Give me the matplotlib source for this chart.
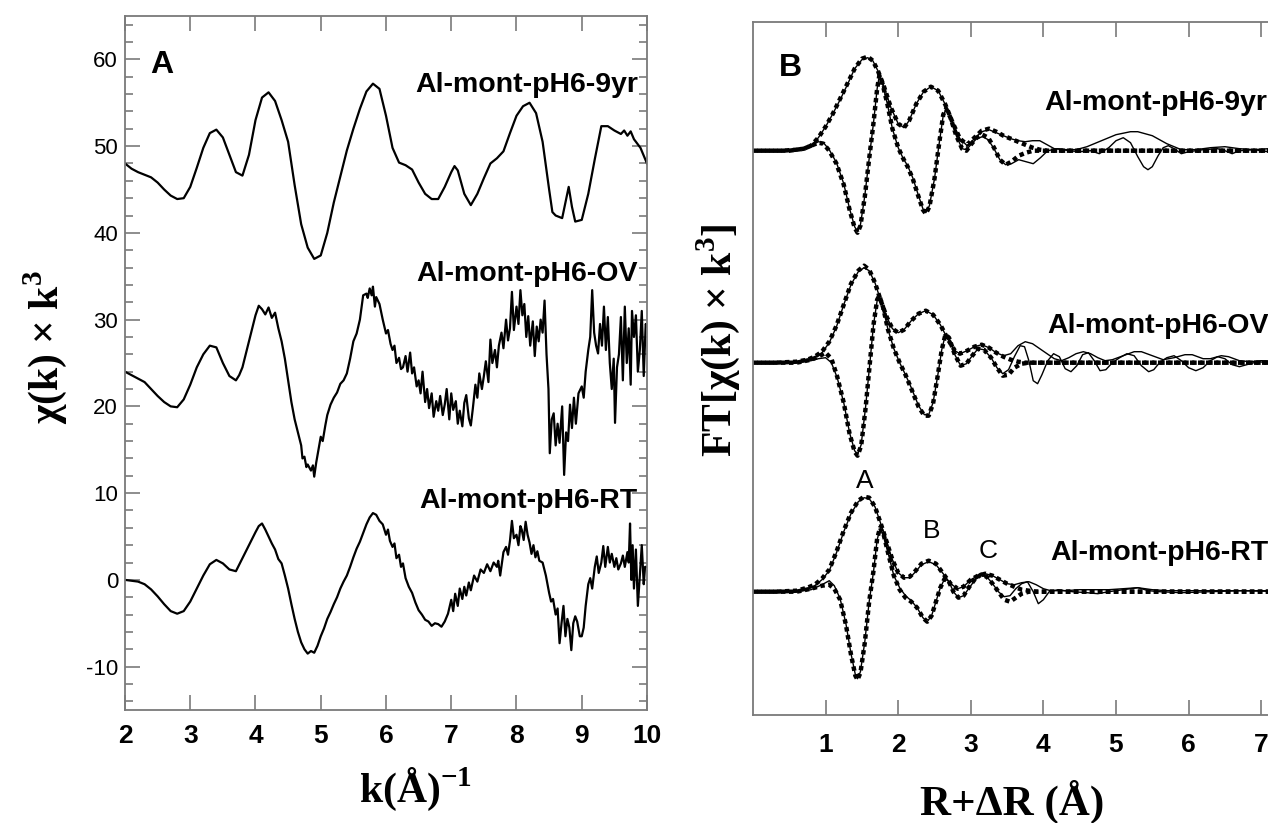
import numpy as np
import matplotlib
matplotlib.use('Agg')
import matplotlib.pyplot as plt
from matplotlib.ticker import MultipleLocator

plt.rcParams['font.family'] = ['Liberation Sans', 'DejaVu Sans']
plt.rcParams['mathtext.fontset'] = 'custom'
plt.rcParams['mathtext.rm'] = 'Liberation Serif'
plt.rcParams['mathtext.bf'] = 'Liberation Serif:bold'

# ---------------- panel A: chi(k)*k^3 ----------------
k_9yr = [2.0, 2.1, 2.2, 2.3, 2.4, 2.5, 2.6, 2.7, 2.8, 2.9, 3.0, 3.1, 3.2, 3.3, 3.4, 3.5, 3.6, 3.7,
         3.8, 3.9, 4.0, 4.1, 4.2, 4.3, 4.4, 4.5, 4.6, 4.7, 4.8, 4.9, 5.0, 5.1, 5.2, 5.3, 5.4, 5.5,
         5.6, 5.7, 5.8, 5.9, 6.0, 6.1, 6.2, 6.3, 6.4, 6.5, 6.6, 6.7, 6.8, 6.9, 7.0, 7.05, 7.1, 7.2,
         7.3, 7.4, 7.5, 7.6, 7.7, 7.8, 7.9, 8.0, 8.1, 8.2, 8.3, 8.4, 8.5, 8.55, 8.6, 8.7, 8.75, 8.8,
         8.85, 8.9, 9.0, 9.1, 9.2, 9.3, 9.4, 9.5, 9.6, 9.65, 9.7, 9.75, 9.8, 9.9, 10.0]
chi_9yr = [48.0, 47.4, 47.0, 46.7, 46.4, 45.8, 45.0, 44.3, 43.9, 44.0, 45.3, 47.5, 49.8, 51.5, 51.9,
           51.0, 49.0, 47.0, 46.6, 49.0, 53.0, 55.6, 56.2, 55.2, 53.0, 50.5, 45.5, 41.0, 38.3, 37.0,
           37.4, 40.0, 43.5, 46.5, 49.5, 52.0, 54.3, 56.3, 57.2, 56.6, 53.5, 49.8, 48.1, 47.8, 47.3,
           45.8, 44.5, 43.9, 43.9, 45.3, 47.0, 47.7, 47.2, 44.5, 43.2, 44.5, 46.3, 48.0, 48.6, 49.4,
           51.5, 53.5, 54.6, 55.0, 53.8, 50.5, 45.0, 42.4, 42.0, 41.7, 43.5, 45.3, 43.0, 41.3, 41.5,
           44.5, 48.5, 52.3, 52.3, 51.8, 51.4, 51.8, 51.2, 51.7, 50.8, 49.8, 48.0]

k_ov = [2.0, 2.1, 2.2, 2.3, 2.4, 2.5, 2.6, 2.7, 2.8, 2.9, 3.0, 3.1, 3.2, 3.3, 3.4, 3.5, 3.6, 3.7,
        3.75, 3.8, 3.9, 4.0, 4.05, 4.1, 4.15, 4.2, 4.25, 4.3, 4.35, 4.4, 4.45, 4.5, 4.55, 4.6,
        4.65, 4.7, 4.72, 4.75, 4.78, 4.8, 4.85, 4.88, 4.9, 4.93, 5.0, 5.03, 5.07, 5.1, 5.15, 5.2,
        5.25, 5.3, 5.35, 5.4, 5.45, 5.5, 5.55, 5.6, 5.65, 5.7, 5.72, 5.75, 5.78, 5.8, 5.83, 5.85,
        5.9, 5.95, 6.0, 6.03, 6.07, 6.1, 6.13, 6.16, 6.2, 6.23, 6.26, 6.3, 6.33, 6.37, 6.4, 6.43,
        6.47, 6.5, 6.53, 6.56, 6.6, 6.63, 6.66, 6.7, 6.73, 6.77, 6.8, 6.83, 6.87, 6.9, 6.93, 6.97,
        7.0, 7.03, 7.07, 7.1, 7.13, 7.17, 7.2, 7.23, 7.27, 7.3, 7.33, 7.37, 7.4, 7.43, 7.47, 7.5,
        7.53, 7.57, 7.6, 7.63, 7.67, 7.7, 7.73, 7.77, 7.8, 7.84, 7.87, 7.9, 7.93, 7.96, 8.0, 8.03,
        8.06, 8.09, 8.12, 8.15, 8.18, 8.21, 8.25, 8.28, 8.31, 8.34, 8.37, 8.4, 8.43, 8.46, 8.49,
        8.51, 8.54, 8.57, 8.6, 8.63, 8.66, 8.7, 8.73, 8.76, 8.79, 8.82, 8.85, 8.88, 8.91, 8.95,
        9.0, 9.03, 9.06, 9.1, 9.13, 9.16, 9.19, 9.22, 9.25, 9.28, 9.31, 9.34, 9.37, 9.4, 9.43,
        9.46, 9.49, 9.51, 9.54, 9.57, 9.6, 9.63, 9.66, 9.69, 9.72, 9.75, 9.77, 9.8, 9.83, 9.86,
        9.89, 9.92, 9.95, 9.98, 10.0]
chi_ov = [24.0, 23.6, 23.2, 22.8, 22.0, 21.2, 20.5, 20.0, 19.9, 20.8, 22.5, 24.5, 26.0, 27.0, 26.8,
          25.0, 23.5, 23.0, 23.6, 24.5, 27.5, 30.5, 31.6, 31.2, 30.6, 31.4, 30.2, 30.8, 29.0, 27.5,
          25.5, 23.0, 20.5, 18.5, 17.0, 15.5, 14.0, 14.2, 13.0, 13.3, 12.6, 13.2, 11.9, 13.5, 16.5,
          16.0, 17.8, 19.0, 20.2, 21.0, 21.6, 22.6, 23.0, 23.8, 25.5, 27.5, 28.4, 30.0, 32.8, 33.0,
          32.5, 33.6, 32.8, 33.8, 31.5, 32.6, 31.8, 30.0, 28.4, 28.8, 27.2, 26.5, 27.0, 25.0, 25.6,
          24.3, 24.5, 25.8, 24.0, 26.2, 23.8, 24.5, 22.3, 23.0, 21.5, 24.0, 20.5, 22.0, 19.8, 21.5,
          18.8, 20.6, 19.5, 21.2, 19.0, 20.2, 22.0, 18.5, 21.5, 19.6, 20.6, 18.0, 19.5, 17.7, 20.4,
          21.3, 18.6, 17.8, 19.7, 22.5, 21.0, 23.8, 22.0, 23.5, 25.2, 22.8, 27.7, 25.0, 26.5, 24.5,
          27.0, 28.5, 26.7, 30.0, 27.6, 29.0, 33.2, 28.8, 31.5, 29.5, 33.4, 30.5, 31.8, 28.0, 30.4,
          27.0, 29.8, 25.8, 29.2, 27.5, 30.0, 28.5, 32.2, 26.0, 22.0, 14.6, 18.5, 19.2, 15.5, 18.0,
          15.8, 20.0, 12.1, 17.0, 16.0, 20.2, 17.5, 21.0, 18.0, 21.5, 22.3, 21.0, 24.0, 26.5, 28.0,
          33.4, 28.5, 27.0, 26.1, 29.5, 27.0, 31.5, 26.5, 30.3, 25.0, 22.0, 25.5, 18.1, 24.5, 26.0,
          30.3, 23.0, 31.5, 25.0, 29.0, 22.5, 31.0, 28.0, 30.5, 24.0, 26.5, 31.0, 23.5, 29.5, 29.2]

k_rt = [2.0, 2.1, 2.2, 2.3, 2.4, 2.5, 2.6, 2.7, 2.8, 2.9, 3.0, 3.1, 3.2, 3.3, 3.4, 3.5, 3.6, 3.7,
        3.8, 3.9, 4.0, 4.05, 4.1, 4.15, 4.2, 4.25, 4.3, 4.35, 4.4, 4.45, 4.5, 4.55, 4.6, 4.65, 4.7,
        4.75, 4.8, 4.85, 4.9, 4.95, 5.0, 5.05, 5.1, 5.15, 5.2, 5.25, 5.3, 5.35, 5.4, 5.45, 5.5,
        5.55, 5.6, 5.65, 5.7, 5.75, 5.8, 5.85, 5.9, 5.95, 6.0, 6.03, 6.06, 6.1, 6.13, 6.16, 6.2,
        6.23, 6.26, 6.3, 6.35, 6.4, 6.45, 6.5, 6.55, 6.6, 6.65, 6.7, 6.75, 6.8, 6.85, 6.9, 6.95,
        7.0, 7.03, 7.06, 7.1, 7.13, 7.17, 7.2, 7.23, 7.27, 7.3, 7.35, 7.4, 7.45, 7.5, 7.55, 7.6,
        7.65, 7.7, 7.72, 7.75, 7.8, 7.84, 7.87, 7.9, 7.93, 7.96, 8.0, 8.03, 8.06, 8.08, 8.11, 8.14,
        8.17, 8.2, 8.23, 8.26, 8.29, 8.32, 8.35, 8.4, 8.45, 8.5, 8.53, 8.56, 8.6, 8.63, 8.66, 8.69,
        8.72, 8.75, 8.78, 8.81, 8.84, 8.87, 8.9, 8.93, 8.97, 9.0, 9.03, 9.06, 9.1, 9.13, 9.16, 9.2,
        9.23, 9.26, 9.3, 9.33, 9.36, 9.4, 9.43, 9.46, 9.5, 9.53, 9.56, 9.6, 9.63, 9.66, 9.7, 9.72,
        9.74, 9.76, 9.78, 9.8, 9.83, 9.86, 9.89, 9.92, 9.95, 9.97, 10.0]
chi_rt = [0.0, -0.1, -0.2, -0.5, -1.1, -1.9, -2.8, -3.6, -3.9, -3.6, -2.5, -1.0, 0.5, 1.8, 2.3, 1.9,
          1.2, 1.0, 2.5, 4.0, 5.5, 6.2, 6.5, 5.8, 5.0, 4.2, 3.5, 2.4, 1.9, 0.5, -1.0, -2.8, -4.5,
          -6.0, -7.2, -8.0, -8.5, -8.2, -8.4, -7.6, -6.5, -5.6, -4.5, -3.7, -2.8, -2.0, -1.0, -0.2,
          0.5, 1.5, 2.6, 3.6, 4.4, 5.4, 6.4, 7.2, 7.7, 7.5, 6.8, 6.4, 5.2, 5.8, 4.5, 3.8, 4.2, 2.5,
          2.9, 1.5, 1.9, 0.2, -0.8, -1.5, -2.6, -3.5, -4.0, -4.6, -4.8, -5.3, -5.0, -5.1, -5.4, -4.8,
          -3.9, -2.3, -3.6, -1.6, -3.0, -1.0, -2.2, -0.8, -1.8, -0.3, -1.2, 0.5, -0.2, 1.2, 0.8, 1.8,
          1.0, 2.0, 1.5, 2.2, 0.5, 3.2, 3.8, 2.9, 4.5, 6.8, 4.8, 5.2, 4.0, 6.2, 5.8, 4.6, 6.7, 5.2,
          4.3, 3.0, 4.0, 2.6, 3.3, 2.2, 2.0, 0.5, -1.5, -2.5, -2.2, -4.0, -3.3, -7.3, -5.0, -3.0,
          -6.5, -4.5, -5.5, -8.1, -5.0, -4.2, -4.8, -6.5, -6.5, -5.5, -3.0, -0.5, 0.2, -1.0, 1.5,
          2.7, 0.8, 2.0, 3.9, 1.5, 3.8, 2.0, 3.0, 1.5, 2.5, 1.2, 1.9, 2.8, 1.5, 3.2, 2.0, 6.5, 0.0,
          4.0, -1.0, 3.5, -3.0, 0.5, 4.0, -0.5, 1.5, 1.5]

labels_A = ['Al-mont-pH6-9yr', 'Al-mont-pH6-OV', 'Al-mont-pH6-RT']
label_y_A = [56.2, 34.4, 8.3]

# ---------------- panel B: Fourier transforms (stacked, arbitrary units) ----------------
offsets_B = [4.41, 2.29, 0.0]

# 9yr
r_mag_9yr = [0.0, 0.2, 0.4, 0.6, 0.7, 0.8, 0.9, 1.0, 1.1, 1.2, 1.3, 1.4, 1.5, 1.58, 1.65, 1.72, 1.8,
             1.9, 2.0, 2.08, 2.15, 2.25, 2.35, 2.45, 2.55, 2.65, 2.75, 2.85, 2.95, 3.05, 3.15, 3.25,
             3.35, 3.45, 3.55, 3.65, 3.75, 3.85, 3.95, 4.05, 4.15, 4.3, 4.45, 4.6, 4.8, 5.0, 5.2,
             5.3, 5.5, 5.7, 5.9, 6.1, 6.3, 6.5, 6.7, 6.9, 7.1, 7.4]
mag_9yr = [0.0, 0.005, 0.0, 0.01, 0.02, 0.05, 0.13, 0.24, 0.37, 0.51, 0.66, 0.82, 0.91, 0.93, 0.90,
           0.80, 0.65, 0.43, 0.27, 0.23, 0.30, 0.47, 0.59, 0.64, 0.60, 0.46, 0.28, 0.12, 0.05, 0.12,
           0.19, 0.21, 0.18, 0.15, 0.12, 0.10, 0.09, 0.10, 0.10, 0.06, 0.02, 0.01, 0.01, 0.04, 0.10,
           0.16, 0.19, 0.19, 0.15, 0.07, 0.01, 0.01, 0.03, 0.04, 0.02, 0.01, 0.02, 0.01]
r_magfit_9yr = [0.0, 0.2, 0.4, 0.6, 0.7, 0.8, 0.9, 1.0, 1.1, 1.2, 1.3, 1.4, 1.5, 1.58, 1.65, 1.72,
                1.8, 1.9, 2.0, 2.08, 2.15, 2.25, 2.35, 2.45, 2.55, 2.65, 2.75, 2.85, 2.95, 3.05,
                3.15, 3.25, 3.35, 3.45, 3.55, 3.65, 3.75, 3.85, 3.95, 4.05, 8.0]
magfit_9yr = [0.0, 0.0, 0.0, 0.01, 0.02, 0.05, 0.13, 0.24, 0.37, 0.52, 0.67, 0.82, 0.92, 0.94, 0.90,
              0.80, 0.65, 0.43, 0.27, 0.23, 0.30, 0.47, 0.59, 0.64, 0.60, 0.46, 0.28, 0.12, 0.06,
              0.13, 0.20, 0.22, 0.19, 0.15, 0.12, 0.09, 0.06, 0.03, 0.01, 0.0, 0.0]
r_im_9yr = [0.0, 0.3, 0.5, 0.7, 0.8, 0.9, 0.97, 1.05, 1.15, 1.25, 1.33, 1.4, 1.44, 1.48, 1.54, 1.6,
            1.66, 1.71, 1.74, 1.78, 1.85, 1.92, 2.0, 2.07, 2.13, 2.2, 2.28, 2.34, 2.38, 2.43, 2.5,
            2.56, 2.62, 2.66, 2.72, 2.8, 2.88, 2.94, 3.0, 3.08, 3.16, 3.24, 3.32, 3.4, 3.48, 3.56,
            3.66, 3.76, 3.86, 3.96, 4.06, 4.2, 4.35, 4.5, 4.65, 4.77, 4.9, 5.0, 5.1, 5.2, 5.3, 5.38,
            5.44, 5.5, 5.58, 5.65, 5.72, 5.8, 5.9, 6.0, 6.2, 6.4, 6.5, 6.6, 6.7, 6.9, 7.1, 7.4]
im_9yr = [0.0, -0.005, 0.0, 0.02, 0.05, 0.09, 0.08, 0.01, -0.12, -0.33, -0.58, -0.76, -0.81, -0.74,
          -0.45, -0.08, 0.28, 0.62, 0.75, 0.68, 0.47, 0.22, 0.03, -0.08, -0.15, -0.27, -0.45, -0.58,
          -0.62, -0.55, -0.28, 0.05, 0.35, 0.42, 0.33, 0.15, 0.02, 0.01, 0.06, 0.12, 0.14, 0.11,
          0.02, -0.09, -0.14, -0.13, -0.09, -0.11, -0.13, -0.07, 0.0, 0.02, 0.0, -0.01, 0.0, -0.03,
          0.03, 0.10, 0.13, 0.08, -0.06, -0.16, -0.19, -0.16, -0.05, 0.03, 0.05, 0.02, -0.03, -0.01,
          0.01, 0.02, 0.0, -0.03, 0.0, 0.01, -0.01, 0.0]
r_imfit_9yr = [0.0, 0.3, 0.5, 0.7, 0.8, 0.9, 0.97, 1.05, 1.15, 1.25, 1.33, 1.4, 1.44, 1.48, 1.54,
               1.6, 1.66, 1.71, 1.74, 1.78, 1.85, 1.92, 2.0, 2.07, 2.13, 2.2, 2.28, 2.34, 2.38, 2.43,
               2.5, 2.56, 2.62, 2.66, 2.72, 2.8, 2.88, 2.94, 3.0, 3.08, 3.16, 3.24, 3.32, 3.4, 3.48,
               3.56, 3.66, 3.76, 3.86, 8.0]
imfit_9yr = [0.0, 0.0, 0.0, 0.02, 0.05, 0.08, 0.07, 0.0, -0.13, -0.34, -0.59, -0.77, -0.82, -0.75,
             -0.46, -0.08, 0.28, 0.62, 0.75, 0.68, 0.47, 0.22, 0.03, -0.08, -0.16, -0.28, -0.46,
             -0.59, -0.63, -0.56, -0.28, 0.05, 0.36, 0.42, 0.33, 0.15, 0.02, 0.0, 0.06, 0.13, 0.16,
             0.13, 0.03, -0.09, -0.14, -0.11, -0.05, -0.02, 0.0, 0.0]

# OV
r_mag_ov = [0.0, 0.3, 0.6, 0.75, 0.85, 0.95, 1.05, 1.15, 1.25, 1.35, 1.45, 1.53, 1.6, 1.68, 1.76,
            1.84, 1.92, 2.0, 2.08, 2.18, 2.28, 2.38, 2.48, 2.58, 2.68, 2.78, 2.85, 2.95, 3.05, 3.15,
            3.25, 3.35, 3.45, 3.55, 3.65, 3.75, 3.85, 3.95, 4.05, 4.15, 4.25, 4.35, 4.45, 4.55, 4.65,
            4.75, 4.85, 4.95, 5.1, 5.25, 5.35, 5.5, 5.65, 5.8, 5.95, 6.05, 6.2, 6.3, 6.45, 6.55, 6.7,
            6.85, 7.0, 7.4]
mag_ov = [0.0, 0.0, 0.01, 0.03, 0.05, 0.10, 0.20, 0.36, 0.58, 0.78, 0.91, 0.95, 0.92, 0.80, 0.62,
          0.46, 0.34, 0.30, 0.33, 0.42, 0.49, 0.52, 0.48, 0.38, 0.24, 0.12, 0.09, 0.12, 0.16, 0.18,
          0.15, 0.10, 0.07, 0.09, 0.17, 0.21, 0.19, 0.14, 0.09, 0.04, 0.02, 0.05, 0.09, 0.11, 0.09,
          0.05, 0.02, 0.03, 0.07, 0.11, 0.11, 0.07, 0.03, 0.05, 0.08, 0.08, 0.04, 0.04, 0.07, 0.06,
          0.02, 0.01, 0.02, 0.01]
r_magfit_ov = [0.0, 0.3, 0.6, 0.75, 0.85, 0.95, 1.05, 1.15, 1.25, 1.35, 1.45, 1.53, 1.6, 1.68, 1.76,
               1.84, 1.92, 2.0, 2.08, 2.18, 2.28, 2.38, 2.48, 2.58, 2.68, 2.78, 2.85, 2.95, 3.05,
               3.15, 3.25, 3.35, 3.45, 3.55, 3.65, 3.75, 8.0]
magfit_ov = [0.0, 0.0, 0.01, 0.03, 0.06, 0.11, 0.21, 0.37, 0.58, 0.79, 0.92, 0.97, 0.93, 0.80, 0.62,
             0.46, 0.34, 0.30, 0.33, 0.42, 0.49, 0.52, 0.48, 0.38, 0.24, 0.12, 0.09, 0.12, 0.16,
             0.18, 0.15, 0.10, 0.06, 0.03, 0.01, 0.0, 0.0]
r_im_ov = [0.0, 0.3, 0.6, 0.8, 0.9, 1.0, 1.08, 1.16, 1.25, 1.33, 1.4, 1.44, 1.49, 1.55, 1.61, 1.66,
           1.71, 1.74, 1.79, 1.86, 1.94, 2.02, 2.1, 2.18, 2.28, 2.36, 2.42, 2.48, 2.54, 2.6, 2.65,
           2.7, 2.78, 2.86, 2.94, 3.02, 3.1, 3.18, 3.28, 3.36, 3.44, 3.52, 3.6, 3.68, 3.74, 3.8,
           3.86, 3.92, 3.98, 4.06, 4.14, 4.22, 4.3, 4.38, 4.46, 4.54, 4.62, 4.7, 4.78, 4.86, 4.95,
           5.05, 5.15, 5.25, 5.35, 5.45, 5.52, 5.6, 5.7, 5.8, 5.9, 6.0, 6.1, 6.2, 6.3, 6.4, 6.5,
           6.6, 6.7, 6.8, 6.95, 7.1, 7.4]
im_ov = [0.0, -0.005, 0.0, 0.02, 0.04, 0.05, 0.0, -0.15, -0.40, -0.70, -0.88, -0.92, -0.82, -0.45,
         0.0, 0.38, 0.62, 0.66, 0.55, 0.33, 0.14, 0.0, -0.12, -0.25, -0.43, -0.52, -0.52, -0.40,
         -0.15, 0.13, 0.28, 0.25, 0.08, -0.03, -0.01, 0.07, 0.14, 0.13, 0.05, -0.05, -0.11, -0.07,
         0.06, 0.17, 0.16, 0.02, -0.18, -0.21, -0.12, 0.02, 0.09, 0.06, -0.06, -0.09, -0.03, 0.08,
         0.10, 0.02, -0.08, -0.07, 0.0, 0.05, 0.09, 0.07, -0.03, -0.09, -0.07, 0.0, 0.05, 0.07,
         0.02, -0.05, -0.08, -0.05, 0.02, 0.06, 0.04, -0.02, -0.04, -0.02, 0.01, 0.0, 0.0]
r_imfit_ov = [0.0, 0.3, 0.6, 0.8, 0.9, 1.0, 1.08, 1.16, 1.25, 1.33, 1.4, 1.44, 1.49, 1.55, 1.61,
              1.66, 1.71, 1.74, 1.79, 1.86, 1.94, 2.02, 2.1, 2.18, 2.28, 2.36, 2.42, 2.48, 2.54, 2.6,
              2.65, 2.7, 2.78, 2.86, 2.94, 3.02, 3.1, 3.18, 3.28, 3.36, 3.44, 3.52, 3.6, 3.7, 3.8,
              8.0]
imfit_ov = [0.0, 0.0, 0.0, 0.03, 0.06, 0.10, 0.04, -0.14, -0.40, -0.71, -0.89, -0.93, -0.83, -0.46,
            0.0, 0.38, 0.63, 0.67, 0.56, 0.33, 0.14, 0.0, -0.12, -0.26, -0.44, -0.53, -0.53, -0.41,
            -0.15, 0.13, 0.28, 0.25, 0.08, -0.03, -0.01, 0.07, 0.14, 0.13, 0.05, -0.05, -0.13,
            -0.12, -0.05, -0.01, 0.0, 0.0]

# RT
r_mag_rt = [0.0, 0.3, 0.6, 0.75, 0.85, 0.95, 1.05, 1.15, 1.25, 1.35, 1.45, 1.53, 1.6, 1.68, 1.76,
            1.84, 1.92, 2.0, 2.08, 2.16, 2.24, 2.32, 2.42, 2.52, 2.62, 2.72, 2.82, 2.9, 3.0, 3.1,
            3.2, 3.3, 3.4, 3.5, 3.6, 3.7, 3.8, 3.9, 4.0, 4.1, 4.3, 4.5, 4.7, 4.9, 5.1, 5.3, 5.5,
            5.7, 6.0, 6.5, 7.4]
mag_rt = [0.0, 0.0, 0.01, 0.03, 0.06, 0.12, 0.21, 0.39, 0.60, 0.78, 0.90, 0.94, 0.93, 0.85, 0.68,
          0.50, 0.32, 0.19, 0.14, 0.14, 0.20, 0.27, 0.30, 0.27, 0.18, 0.08, 0.03, 0.05, 0.12, 0.16,
          0.18, 0.16, 0.12, 0.08, 0.07, 0.09, 0.10, 0.07, 0.03, 0.01, 0.01, 0.02, 0.02, 0.02, 0.03,
          0.04, 0.02, 0.01, 0.01, 0.01, 0.01]
r_magfit_rt = [0.0, 0.3, 0.6, 0.75, 0.85, 0.95, 1.05, 1.15, 1.25, 1.35, 1.45, 1.53, 1.6, 1.68, 1.76,
               1.84, 1.92, 2.0, 2.08, 2.16, 2.24, 2.32, 2.42, 2.52, 2.62, 2.72, 2.82, 2.9, 3.0, 3.1,
               3.2, 3.3, 3.4, 3.5, 3.6, 3.7, 3.8, 3.9, 8.0]
magfit_rt = [0.0, 0.0, 0.01, 0.04, 0.07, 0.13, 0.22, 0.40, 0.61, 0.79, 0.91, 0.95, 0.94, 0.85, 0.68,
             0.50, 0.32, 0.19, 0.14, 0.15, 0.21, 0.28, 0.31, 0.28, 0.18, 0.08, 0.03, 0.05, 0.12,
             0.16, 0.18, 0.16, 0.12, 0.08, 0.05, 0.02, 0.01, 0.0, 0.0]
r_im_rt = [0.0, 0.3, 0.6, 0.8, 0.95, 1.05, 1.12, 1.2, 1.28, 1.35, 1.41, 1.44, 1.48, 1.54, 1.6, 1.66,
           1.71, 1.75, 1.8, 1.87, 1.94, 2.02, 2.1, 2.18, 2.26, 2.34, 2.4, 2.46, 2.52, 2.58, 2.64,
           2.7, 2.76, 2.83, 2.9, 2.98, 3.06, 3.14, 3.22, 3.3, 3.38, 3.46, 3.54, 3.62, 3.7, 3.78,
           3.86, 3.93, 4.0, 4.08, 4.2, 4.4, 4.6, 4.75, 4.9, 5.1, 5.3, 5.45, 5.6, 5.9, 6.3, 6.7, 7.4]
im_rt = [0.0, -0.005, 0.0, 0.02, 0.07, 0.11, 0.06, -0.07, -0.32, -0.62, -0.83, -0.87, -0.80, -0.50,
         -0.10, 0.20, 0.52, 0.63, 0.56, 0.36, 0.16, 0.04, -0.04, -0.09, -0.16, -0.26, -0.30, -0.24,
         -0.10, 0.04, 0.13, 0.10, 0.0, -0.06, -0.04, 0.04, 0.12, 0.16, 0.15, 0.08, 0.0, -0.05,
         -0.04, 0.03, 0.08, 0.10, 0.0, -0.12, -0.08, 0.0, 0.02, 0.0, -0.01, -0.02, 0.0, 0.02, 0.04,
         0.01, 0.0, -0.01, 0.0, 0.01, 0.0]
r_imfit_rt = [0.0, 0.3, 0.6, 0.8, 0.95, 1.05, 1.12, 1.2, 1.28, 1.35, 1.41, 1.44, 1.48, 1.54, 1.6,
              1.66, 1.71, 1.75, 1.8, 1.87, 1.94, 2.02, 2.1, 2.18, 2.26, 2.34, 2.4, 2.46, 2.52, 2.58,
              2.64, 2.7, 2.76, 2.83, 2.9, 2.98, 3.06, 3.14, 3.22, 3.3, 3.38, 3.46, 3.54, 3.62, 3.7,
              3.8, 8.0]
imfit_rt = [0.0, 0.0, 0.0, 0.03, 0.06, 0.07, 0.03, -0.08, -0.33, -0.63, -0.84, -0.88, -0.81, -0.51,
            -0.10, 0.21, 0.53, 0.64, 0.57, 0.36, 0.16, 0.02, -0.06, -0.10, -0.16, -0.26, -0.30,
            -0.24, -0.10, 0.04, 0.13, 0.10, 0.0, -0.06, -0.04, 0.05, 0.13, 0.17, 0.15, 0.08, 0.0,
            -0.08, -0.10, -0.06, -0.02, 0.0, 0.0]

labels_B = ['Al-mont-pH6-9yr', 'Al-mont-pH6-OV', 'Al-mont-pH6-RT']
label_r_B = [4.01, 4.05, 4.10]
label_y_B = [4.82, 2.59, 0.32]
shells = ['A', 'B', 'C']
shell_r = [1.535, 2.46, 3.24]
shell_y = [1.04, 0.54, 0.34]

# ---------------- figure ----------------
W, H = 1268, 823
fig = plt.figure(figsize=(W / 100, H / 100), dpi=100)
axA = fig.add_axes([125 / W, 1 - 710 / H, 522 / W, 694 / H])
axB = fig.add_axes([753 / W, 1 - 715 / H, 8 * 72.6 / W, 693 / H])

spine_c = '#7a7a7a'
serif = ['Liberation Serif', 'DejaVu Serif']

# panel A
for kk, cc in [(k_9yr, chi_9yr), (k_ov, chi_ov), (k_rt, chi_rt)]:
    axA.plot(kk, cc, color='black', lw=1.6)
axA.set_xlim(2, 10)
axA.set_ylim(-15, 65)
axA.set_xticks(range(2, 11))
axA.set_xticklabels([str(i) for i in range(2, 11)], fontweight='bold', fontsize=19)
axA.set_yticks(range(-10, 61, 10))
axA.set_yticklabels([str(i) for i in range(-10, 61, 10)], fontsize=16)
axA.yaxis.set_minor_locator(MultipleLocator(2))
axA.tick_params(which='both', direction='in', top=True, right=True, color=spine_c, width=1.2)
axA.tick_params(which='major', length=11)
axA.tick_params(which='minor', length=6)
axA.tick_params(axis='x', pad=10)
axA.tick_params(axis='y', pad=5)
for s in axA.spines.values():
    s.set_color(spine_c)
    s.set_linewidth(1.3)
for lab, yy in zip(labels_A, label_y_A):
    axA.text(9.86, yy, lab, ha='right', va='baseline', fontsize=20.5, fontweight='bold')
axA.text(2.38, 58.4, 'A', ha='left', va='baseline', fontsize=23, fontweight='bold')
axA.set_xlabel('k(Å)$^{\\mathbf{-1}}$', fontfamily=serif, fontweight='bold', fontsize=30,
               va='top')
axA.xaxis.set_label_coords(0.556, -0.08)
axA.set_ylabel('χ(k) × k$^{\\mathbf{3}}$', fontfamily=serif, fontweight='bold', fontsize=30,
               va='center')
axA.yaxis.set_label_coords(-0.153, 0.523)

# panel B
data_B = [
    (r_mag_9yr, mag_9yr, r_magfit_9yr, magfit_9yr, r_im_9yr, im_9yr, r_imfit_9yr, imfit_9yr),
    (r_mag_ov, mag_ov, r_magfit_ov, magfit_ov, r_im_ov, im_ov, r_imfit_ov, imfit_ov),
    (r_mag_rt, mag_rt, r_magfit_rt, magfit_rt, r_im_rt, im_rt, r_imfit_rt, imfit_rt),
]
for off, (rm, m, rmf, mf, ri, im, rif, imf) in zip(offsets_B, data_B):
    axB.plot(rm, np.array(m) + off, color='black', lw=1.0)
    axB.plot(ri, np.array(im) + off, color='black', lw=1.0)
    axB.plot(rmf, np.array(mf) + off, color='black', lw=3.2, linestyle=(0, (1, 0.8)))
    axB.plot(rif, np.array(imf) + off, color='black', lw=3.2, linestyle=(0.9, (1, 0.8)))
axB.set_xlim(0, 8)
axB.set_ylim(-1.233, 5.697)
axB.set_yticks([])
axB.set_xticks(range(1, 8))
axB.set_xticklabels([str(i) for i in range(1, 8)], fontweight='bold', fontsize=19)
axB.tick_params(which='both', direction='in', top=True, color=spine_c, width=1.2, length=11,
                pad=13)
for s in axB.spines.values():
    s.set_color(spine_c)
    s.set_linewidth(1.3)
for lab, rr, yy in zip(labels_B, label_r_B, label_y_B):
    axB.text(rr, yy, lab, ha='left', va='baseline', fontsize=20.5, fontweight='bold')
for lab, rr, yy in zip(shells, shell_r, shell_y):
    axB.text(rr, yy, lab, ha='center', va='baseline', fontsize=19)
axB.text(0.36, 5.157, 'B', ha='left', va='baseline', fontsize=23, fontweight='bold')
axB.set_xlabel('R+ΔR (Å)', fontfamily=serif, fontweight='bold', fontsize=31, va='top')
axB.xaxis.set_label_coords(0.446, -0.094)
axB.set_ylabel('FT[χ(k) × k$^{\\mathbf{3}}$]', fontfamily=serif, fontweight='bold',
               fontsize=30, va='center')
axB.yaxis.set_label_coords(-0.06, 0.541)

fig.savefig('out.png', dpi=100)
